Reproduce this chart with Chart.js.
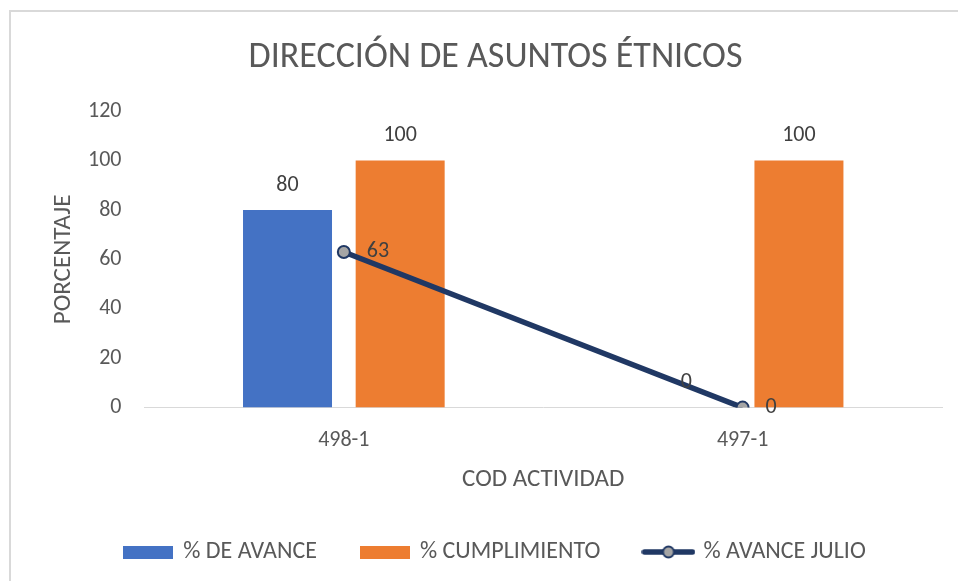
<!DOCTYPE html>
<html lang="es">
<head>
<meta charset="utf-8">
<title>Dirección de Asuntos Étnicos</title>
<script src="https://cdn.jsdelivr.net/npm/chart.js@4.4.1/dist/chart.umd.min.js"></script>
<style>
  html, body { margin: 0; padding: 0; background: #fff; }
  .wrap { position: relative; width: 958px; height: 581px; overflow: hidden; }
  .frame {
    position: absolute; left: 9px; top: 10px; right: -5px; bottom: -5px;
    border-top: 2px solid #d9d9d9; border-left: 2px solid #d9d9d9;
    pointer-events: none;
  }
</style>
</head>
<body>
<div class="wrap">
  <canvas id="chart" width="958" height="581"></canvas>
  <div class="frame"></div>
</div>
<script>
// Datos de la gráfica
const categories = ['498-1', '497-1'];
const avance = [80, 0];
const cumplimiento = [100, 100];
const avanceJulio = [63, 0];
const yMin = 0, yMax = 120, yStep = 20;

const FONT = 'Carlito, Lato, "Liberation Sans", sans-serif';
const TEXT = '#595959';
const BLUE = '#4472C4';
const ORANGE = '#ED7D31';
const NAVY = '#203864';
const GRAY = '#A5A5A5';

// Muestras de la leyenda dibujadas en canvas pequeños
function boxSwatch(color) {
  const c = document.createElement('canvas');
  c.width = 50; c.height = 13;
  const g = c.getContext('2d');
  g.fillStyle = color;
  g.fillRect(0, 0, 50, 13);
  return c;
}

function lineSwatch() {
  const c = document.createElement('canvas');
  c.width = 54; c.height = 16;
  const g = c.getContext('2d');
  g.strokeStyle = NAVY;
  g.lineWidth = 5.5;
  g.lineCap = 'round';
  g.beginPath();
  g.moveTo(3, 8); g.lineTo(51, 8);
  g.stroke();
  g.beginPath();
  g.arc(27, 8, 5.5, 0, Math.PI * 2);
  g.fillStyle = GRAY;
  g.fill();
  g.lineWidth = 2;
  g.stroke();
  return c;
}

// Etiquetas de valor sobre barras y a la derecha de los puntos
const valueLabels = {
  id: 'valueLabels',
  afterDatasetsDraw(chart) {
    const ctx = chart.ctx;
    ctx.save();
    ctx.font = '22px ' + FONT;
    ctx.fillStyle = '#404040';
    ctx.textBaseline = 'middle';
    chart.data.datasets.forEach((ds, i) => {
      const meta = chart.getDatasetMeta(i);
      meta.data.forEach((el, j) => {
        const v = ds.data[j];
        if (meta.type === 'line') {
          ctx.textAlign = 'left';
          ctx.fillText(v, el.x + 23, el.y);
        } else {
          ctx.textAlign = 'center';
          ctx.fillText(v, el.x, el.y - 25);
        }
      });
    });
    ctx.restore();
  }
};

new Chart(document.getElementById('chart'), {
  type: 'bar',
  data: {
    labels: categories,
    datasets: [
      {
        label: '% DE AVANCE',
        data: avance,
        backgroundColor: BLUE,
        categoryPercentage: 0.565,
        barPercentage: 0.79,
        order: 1
      },
      {
        label: '% CUMPLIMIENTO',
        data: cumplimiento,
        backgroundColor: ORANGE,
        categoryPercentage: 0.565,
        barPercentage: 0.79,
        order: 1
      },
      {
        type: 'line',
        label: '% AVANCE JULIO',
        data: avanceJulio,
        borderColor: NAVY,
        borderWidth: 5.5,
        pointRadius: 6,
        pointBackgroundColor: GRAY,
        pointBorderColor: NAVY,
        pointBorderWidth: 2,
        order: 0
      }
    ]
  },
  options: {
    responsive: false,
    animation: false,
    layout: { padding: { left: 49, right: 16, top: 0, bottom: 7 } },
    plugins: {
      tooltip: { enabled: false },
      title: {
        display: true,
        text: 'DIRECCIÓN DE ASUNTOS ÉTNICOS',
        color: TEXT,
        font: { family: FONT, size: 36, weight: 'normal' },
        padding: { top: 36, bottom: 32 }
      },
      legend: {
        position: 'bottom',
        labels: {
          usePointStyle: true,
          pointStyleWidth: 46,
          color: TEXT,
          font: { family: FONT, size: 24 },
          padding: 45,
          generateLabels(chart) {
            const styles = [boxSwatch(BLUE), boxSwatch(ORANGE), lineSwatch()];
            return chart.data.datasets.map((ds, i) => ({
              text: ds.label,
              pointStyle: styles[i],
              fontColor: TEXT,
              lineWidth: 0,
              datasetIndex: i
            }));
          }
        }
      }
    },
    scales: {
      x: {
        grid: { display: false, drawTicks: false },
        border: { display: true, color: '#d9d9d9', width: 1 },
        ticks: { color: TEXT, font: { family: FONT, size: 22 }, padding: 20 },
        title: {
          display: true,
          text: 'COD ACTIVIDAD',
          color: TEXT,
          font: { family: FONT, size: 25 },
          padding: { top: -9, bottom: 0 }
        }
      },
      y: {
        min: yMin,
        max: yMax,
        grid: { display: false, drawTicks: false },
        border: { display: false },
        ticks: { stepSize: yStep, color: TEXT, font: { family: FONT, size: 22 }, padding: 23 },
        title: {
          display: true,
          text: 'PORCENTAJE',
          color: TEXT,
          font: { family: FONT, size: 25 },
          padding: { top: 0, bottom: -14 }
        }
      }
    }
  },
  plugins: [valueLabels]
});
</script>
</body>
</html>
